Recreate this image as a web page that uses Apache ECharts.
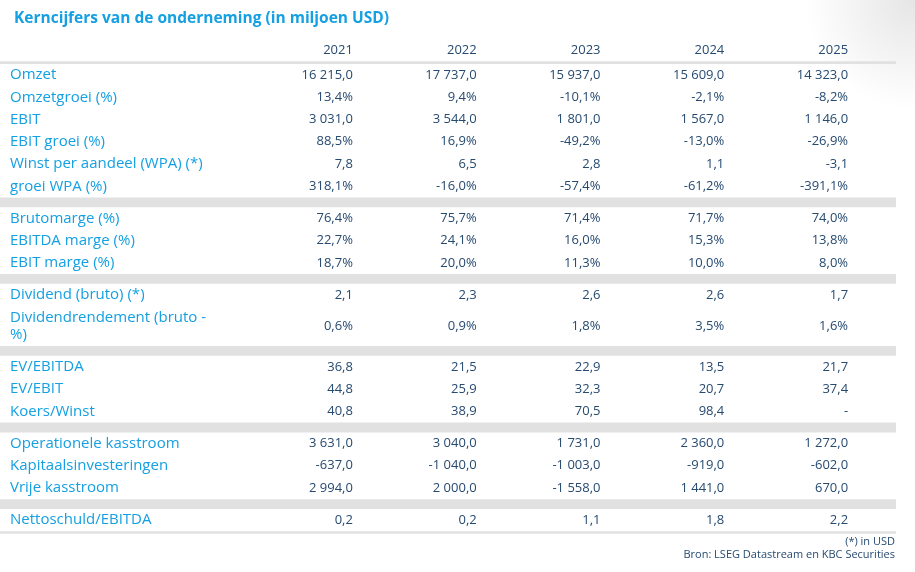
<!DOCTYPE html>
<html>
<head>
<meta charset="utf-8">
<title>Kerncijfers</title>
<script src="https://cdn.jsdelivr.net/npm/echarts@6/dist/echarts.min.js"></script>
<style>
  html, body { margin: 0; padding: 0; background: #fff; }
  #chart { width: 915px; height: 572px; }
</style>
</head>
<body>
<div id="chart"></div>
<script>
// column headers
const years = ['2021', '2022', '2023', '2024', '2025'];

// section 1: resultaten
const labelsResult = ['Omzet', 'Omzetgroei (%)', 'EBIT', 'EBIT groei (%)', 'Winst per aandeel (WPA) (*)', 'groei WPA (%)'];
const kindsResult = ['num', 'pct', 'num', 'pct', 'num', 'pct'];
const valuesResult = [
    [16215.0, 17737.0, 15937.0, 15609.0, 14323.0],
    [13.4, 9.4, -10.1, -2.1, -8.2],
    [3031.0, 3544.0, 1801.0, 1567.0, 1146.0],
    [88.5, 16.9, -49.2, -13.0, -26.9],
    [7.8, 6.5, 2.8, 1.1, -3.1],
    [318.1, -16.0, -57.4, -61.2, -391.1]
];

// section 2: marges
const labelsMarge = ['Brutomarge (%)', 'EBITDA marge (%)', 'EBIT marge (%)'];
const kindsMarge = ['pct', 'pct', 'pct'];
const valuesMarge = [
    [76.4, 75.7, 71.4, 71.7, 74.0],
    [22.7, 24.1, 16.0, 15.3, 13.8],
    [18.7, 20.0, 11.3, 10.0, 8.0]
];

// section 3: dividend
const labelsDividend = ['Dividend (bruto) (*)', 'Dividendrendement (bruto -\n%)'];
const kindsDividend = ['num', 'pct'];
const valuesDividend = [
    [2.1, 2.3, 2.6, 2.6, 1.7],
    [0.6, 0.9, 1.8, 3.5, 1.6]
];

// section 4: waardering
const labelsValuation = ['EV/EBITDA', 'EV/EBIT', 'Koers/Winst'];
const kindsValuation = ['num', 'num', 'num'];
const valuesValuation = [
    [36.8, 21.5, 22.9, 13.5, 21.7],
    [44.8, 25.9, 32.3, 20.7, 37.4],
    [40.8, 38.9, 70.5, 98.4, null]
];

// section 5: kasstromen
const labelsCash = ['Operationele kasstroom', 'Kapitaalsinvesteringen', 'Vrije kasstroom'];
const kindsCash = ['num', 'num', 'num'];
const valuesCash = [
    [3631.0, 3040.0, 1731.0, 2360.0, 1272.0],
    [-637.0, -1040.0, -1003.0, -919.0, -602.0],
    [2994.0, 2000.0, -1558.0, 1441.0, 670.0]
];

// section 6: schuld
const labelsDebt = ['Nettoschuld/EBITDA'];
const kindsDebt = ['num'];
const valuesDebt = [
    [0.2, 0.2, 1.1, 1.8, 2.2]
];

const footnotes = '(*) in USD\nBron: LSEG Datastream en KBC Securities';

const sections = [
    [labelsResult, kindsResult, valuesResult],
    [labelsMarge, kindsMarge, valuesMarge],
    [labelsDividend, kindsDividend, valuesDividend],
    [labelsValuation, kindsValuation, valuesValuation],
    [labelsCash, kindsCash, valuesCash],
    [labelsDebt, kindsDebt, valuesDebt]
];

// layout in row units (y axis)
const ROW = 1, TALL = 1.8, BAND = 0.44, RULE = 0.12;
const UNIT_PX = 22.25;
const TABLE_LEFT = 0, TABLE_RIGHT = 896, LABEL_X = 10;
const BLUE = '#14a0e2', NAVY = '#264a70', GREY = '#e1e1e1';
const FONT = '"Open Sans", sans-serif';

const layout = [];
let y = 0;
layout.push({ kind: 'header', y0: y, y1: y + ROW }); y += ROW;
layout.push({ kind: 'bar', y0: y, y1: y + RULE }); y += RULE;
sections.forEach((sec, s) => {
    if (s > 0) { layout.push({ kind: 'bar', y0: y, y1: y + BAND }); y += BAND; }
    sec[0].forEach((label, r) => {
        const h = label.indexOf('\n') >= 0 ? TALL : ROW;
        layout.push({ kind: 'row', y0: y, y1: y + h, label: label, fmt: sec[1][r], values: sec[2][r] });
        y += h;
    });
});
layout.push({ kind: 'bar', y0: y, y1: y + RULE }); y += RULE;
const totalUnits = y;

function formatValue(v, kind) {
    if (v == null) return '-';
    const parts = Math.abs(v).toFixed(1).split('.');
    const intPart = parts[0].replace(/\B(?=(\d{3})+(?!\d))/g, ' ');
    return (v < 0 ? '-' : '') + intPart + ',' + parts[1] + (kind === 'pct' ? '%' : '');
}

const chart = echarts.init(document.getElementById('chart'));

function renderRow(params, api) {
    const d = layout[params.dataIndex];
    const top = api.coord([0, d.y0])[1];
    const bottom = api.coord([0, d.y1])[1];
    const mid = (top + bottom) / 2;

    if (d.kind === 'bar') {
        return {
            type: 'rect',
            shape: { x: TABLE_LEFT, y: top, width: TABLE_RIGHT - TABLE_LEFT, height: bottom - top },
            style: { fill: GREY }
        };
    }

    const children = [];
    const texts = d.kind === 'header' ? years : d.values.map(v => formatValue(v, d.fmt));
    texts.forEach((t, j) => {
        children.push({
            type: 'text',
            style: {
                text: t, x: api.coord([j, d.y0])[0], y: mid,
                textAlign: 'right', textVerticalAlign: 'middle',
                fill: NAVY, font: '13px ' + FONT
            }
        });
    });
    if (d.kind === 'row') {
        children.push({
            type: 'text',
            style: {
                text: d.label, x: LABEL_X, y: mid,
                textAlign: 'left', textVerticalAlign: 'middle',
                fill: BLUE, font: '15px ' + FONT, lineHeight: 17
            }
        });
    }
    return { type: 'group', children: children };
}

const option = {
    backgroundColor: '#fff',
    animation: false,
    title: {
        text: 'Kerncijfers van de onderneming (in miljoen USD)',
        left: 9,
        top: 6,
        textStyle: { color: BLUE, fontSize: 15.5, fontWeight: 'bold', fontFamily: FONT }
    },
    grid: {
        left: 291,
        right: 5,
        top: 39,
        height: totalUnits * UNIT_PX
    },
    xAxis: {
        type: 'category',
        data: years,
        boundaryGap: true,
        show: false
    },
    yAxis: {
        type: 'value',
        min: 0,
        max: totalUnits,
        inverse: true,
        show: false
    },
    graphic: [
        {
            type: 'rect',
            right: 0,
            top: 0,
            z: -1,
            shape: { width: 260, height: 110 },
            style: {
                fill: {
                    type: 'radial', x: 1, y: 0, r: 1,
                    colorStops: [
                        { offset: 0, color: 'rgba(0,0,0,0.1)' },
                        { offset: 1, color: 'rgba(0,0,0,0)' }
                    ]
                }
            }
        },
        {
            type: 'text',
            right: 20,
            top: 535,
            style: {
                text: footnotes,
                textAlign: 'right',
                fill: NAVY,
                font: '11px ' + FONT,
                lineHeight: 13
            }
        }
    ],
    series: [
        {
            type: 'custom',
            renderItem: renderRow,
            clip: false,
            data: layout.map(d => [0, d.y0])
        }
    ]
};

chart.setOption(option);
window.addEventListener('resize', () => chart.resize());
</script>
</body>
</html>
